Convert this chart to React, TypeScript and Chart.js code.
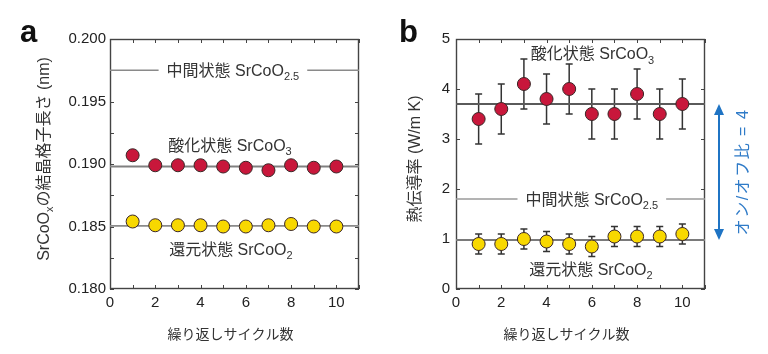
import React, { useEffect, useRef } from "react";
import { Chart, registerables } from "chart.js";

Chart.register(...registerables);

const FONT = "'Liberation Sans', 'Noto Sans CJK JP', Arial, sans-serif";

// ---------------- data ----------------
const cycles = [1, 2, 3, 4, 5, 6, 7, 8, 9, 10];

// panel a: lattice length (nm)
const latticeOxidized = [0.1907, 0.1899, 0.1899, 0.1899, 0.1898, 0.1897, 0.1895, 0.1899, 0.1897, 0.1898];
const latticeReduced = [0.1854, 0.1851, 0.1851, 0.1851, 0.185, 0.185, 0.1851, 0.1852, 0.185, 0.185];
const latticeOxidizedLevel = 0.1898;
const latticeIntermediateLevel = 0.1975;
const latticeReducedLevel = 0.18505;

// panel b: thermal conductivity (W/m K)
const conductOxidized = [3.4, 3.6, 4.1, 3.8, 4.0, 3.5, 3.5, 3.9, 3.5, 3.7];
const conductOxidizedErr = [0.5, 0.5, 0.5, 0.5, 0.5, 0.5, 0.5, 0.5, 0.5, 0.5];
const conductReduced = [0.9, 0.9, 1.0, 0.95, 0.9, 0.85, 1.05, 1.05, 1.05, 1.1];
const conductReducedErr = [0.2, 0.2, 0.2, 0.2, 0.2, 0.2, 0.2, 0.2, 0.2, 0.2];
const conductOxidizedLevel = 3.7;
const conductIntermediateLevel = 1.8;
const conductReducedLevel = 0.98;
const onOffRatio = 4;

// text
type Seg = { t: string; sub?: boolean };
const txtOxidized: Seg[] = [{ t: "酸化状態 SrCoO" }, { t: "3", sub: true }];
const txtIntermediate: Seg[] = [{ t: "中間状態 SrCoO" }, { t: "2.5", sub: true }];
const txtReduced: Seg[] = [{ t: "還元状態 SrCoO" }, { t: "2", sub: true }];
const txtXTitle: Seg[] = [{ t: "繰り返しサイクル数" }];
const txtYTitleA: Seg[] = [{ t: "SrCoO" }, { t: "x", sub: true }, { t: "の結晶格子長さ (nm)" }];
const txtYTitleB: Seg[] = [{ t: "熱伝導率 (W/m K)" }];
const txtRatio = `オン/オフ比 = ${onOffRatio}`;

const RED = "#c8173b";
const YELLOW = "#f8d800";

// ---------------- helpers ----------------
function drawRich(
  ctx: CanvasRenderingContext2D,
  segs: Seg[],
  cx: number,
  cy: number,
  size: number,
  color: string,
  rotation = 0,
  knockPad = -1
) {
  const subSize = Math.round(size * 0.7);
  ctx.save();
  ctx.translate(cx, cy);
  if (rotation) ctx.rotate(rotation);
  const widths = segs.map((s) => {
    ctx.font = `${s.sub ? subSize : size}px ${FONT}`;
    return ctx.measureText(s.t).width;
  });
  const total = widths.reduce((a, b) => a + b, 0);
  if (knockPad >= 0) {
    ctx.fillStyle = "#fff";
    ctx.fillRect(-total / 2 - knockPad, -4, total + 2 * knockPad, 8);
  }
  ctx.fillStyle = color;
  ctx.textBaseline = "alphabetic";
  ctx.textAlign = "left";
  let x = -total / 2;
  const base = size * 0.36;
  segs.forEach((s, i) => {
    ctx.font = `${s.sub ? subSize : size}px ${FONT}`;
    ctx.fillText(s.t, x, base + (s.sub ? size * 0.28 : 0));
    x += widths[i];
  });
  ctx.restore();
}

interface Series { values: number[]; err?: number[]; color: string }
interface Level { value: number; color: string; width: number }
interface Note { x: number; y: number; segs: Seg[]; knock?: boolean }
interface PanelSpec {
  letter: string;
  yMin: number;
  yMax: number;
  yStep: number;
  yLabel: (v: number) => string;
  yAxisWidth: number;
  yLabelPad: number;
  rightPad: number;
  series: Series[];
  levels: Level[];
  notes: Note[];
  yTitle: Seg[];
  yTitleDx: number;
  xTitleDx: number;
  letterX: number;
  arrow?: { from: number; to: number; label: string };
}

const TL = 4;

function makeChart(canvas: HTMLCanvasElement, spec: PanelSpec) {
  const extras = {
    id: "extras",
    beforeDatasetsDraw(chart: any) {
      const { ctx, chartArea: a, scales } = chart;
      const xs = scales.x;
      const ys = scales.y;
      ctx.save();
      ctx.strokeStyle = "#444";
      ctx.lineWidth = 1;
      ctx.beginPath();
      xs.ticks.forEach((t: any) => {
        const px = Math.round(xs.getPixelForValue(t.value)) + 0.5;
        ctx.moveTo(px, a.bottom);
        ctx.lineTo(px, a.bottom - TL);
        ctx.moveTo(px, a.top);
        ctx.lineTo(px, a.top + TL);
      });
      ys.ticks.forEach((t: any) => {
        const py = Math.round(ys.getPixelForValue(t.value)) + 0.5;
        ctx.moveTo(a.left, py);
        ctx.lineTo(a.left + TL, py);
        ctx.moveTo(a.right, py);
        ctx.lineTo(a.right - TL, py);
      });
      ctx.stroke();
      ctx.lineWidth = 1.4;
      ctx.strokeStyle = "#444";
      ctx.strokeRect(a.left + 0.5, a.top + 0.5, a.right - a.left - 1, a.bottom - a.top - 1);
      // error bars
      ctx.strokeStyle = "#333";
      ctx.lineWidth = 1.5;
      spec.series.forEach((s) => {
        if (!s.err) return;
        cycles.forEach((c, i) => {
          const px = xs.getPixelForValue(c);
          const top = ys.getPixelForValue(s.values[i] + s.err![i]);
          const bot = ys.getPixelForValue(s.values[i] - s.err![i]);
          ctx.beginPath();
          ctx.moveTo(px, top);
          ctx.lineTo(px, bot);
          ctx.moveTo(px - 3.5, top);
          ctx.lineTo(px + 3.5, top);
          ctx.moveTo(px - 3.5, bot);
          ctx.lineTo(px + 3.5, bot);
          ctx.stroke();
        });
      });
      ctx.restore();
    },
    afterDatasetsDraw(chart: any) {
      const { ctx, scales } = chart;
      spec.notes.forEach((n) => {
        drawRich(ctx, n.segs, scales.x.getPixelForValue(n.x), scales.y.getPixelForValue(n.y), 16, "#333", 0, n.knock ? 8 : -1);
      });
    },
    afterDraw(chart: any) {
      const { ctx, chartArea: a, scales } = chart;
      // axis titles
      drawRich(ctx, txtXTitle, (a.left + a.right) / 2 + spec.xTitleDx, 334, 14, "#333");
      drawRich(ctx, spec.yTitle, a.left - spec.yTitleDx, (a.top + a.bottom) / 2 - 5, 16, "#333", -Math.PI / 2);
      // panel letter
      ctx.save();
      ctx.font = `bold 31px ${FONT}`;
      ctx.fillStyle = "#111";
      ctx.textBaseline = "alphabetic";
      ctx.fillText(spec.letter, spec.letterX, 42);
      ctx.restore();
      // on/off arrow
      if (spec.arrow) {
        const ys = scales.y;
        const x = a.right + 14;
        const y1 = ys.getPixelForValue(spec.arrow.from);
        const y2 = ys.getPixelForValue(spec.arrow.to);
        ctx.save();
        ctx.strokeStyle = "#1f74c4";
        ctx.fillStyle = "#1f74c4";
        ctx.lineWidth = 2;
        ctx.beginPath();
        ctx.moveTo(x, y1 + 8);
        ctx.lineTo(x, y2 - 8);
        ctx.stroke();
        ctx.beginPath();
        ctx.moveTo(x, y1);
        ctx.lineTo(x - 5, y1 + 11);
        ctx.lineTo(x + 5, y1 + 11);
        ctx.closePath();
        ctx.fill();
        ctx.beginPath();
        ctx.moveTo(x, y2);
        ctx.lineTo(x - 5, y2 - 11);
        ctx.lineTo(x + 5, y2 - 11);
        ctx.closePath();
        ctx.fill();
        ctx.translate(a.right + 38, (y1 + y2) / 2);
        ctx.rotate(-Math.PI / 2);
        ctx.font = `16px ${FONT}`;
        (ctx as any).letterSpacing = "1.5px";
        ctx.textAlign = "center";
        ctx.textBaseline = "middle";
        ctx.fillStyle = "#2f7bc8";
        ctx.fillText(spec.arrow.label, 0, 1);
        ctx.restore();
      }
    },
  };

  const datasets: any[] = [
    ...spec.series.map((s) => ({
      data: cycles.map((c, i) => ({ x: c, y: s.values[i] })),
      backgroundColor: s.color,
      borderColor: "#3a2626",
      borderWidth: 1,
      pointRadius: 6.5,
      pointHoverRadius: 6.5,
      order: 0,
    })),
    ...spec.levels.map((l) => ({
      data: [
        { x: 0, y: l.value },
        { x: 11, y: l.value },
      ],
      showLine: true,
      borderColor: l.color,
      borderWidth: l.width,
      pointRadius: 0,
      fill: false,
      order: 1,
    })),
  ];

  return new Chart(canvas, {
    type: "scatter",
    data: { datasets },
    options: {
      responsive: false,
      animation: false,
      events: [],
      devicePixelRatio: 1,
      layout: { padding: { top: 39, right: spec.rightPad, left: 0, bottom: 0 } },
      plugins: { legend: { display: false }, tooltip: { enabled: false } },
      scales: {
        x: {
          type: "linear",
          min: 0,
          max: 11,
          afterFit: (s: any) => {
            s.height = 65;
          },
          grid: { display: false, drawTicks: false },
          border: { display: false },
          ticks: {
            stepSize: 1,
            autoSkip: false,
            maxRotation: 0,
            padding: 5,
            color: "#222",
            font: { family: FONT, size: 15 },
            callback: (v: any) => (Math.round(v) % 2 === 0 ? String(Math.round(v)) : ""),
          },
        },
        y: {
          type: "linear",
          min: spec.yMin,
          max: spec.yMax,
          afterFit: (s: any) => {
            s.width = spec.yAxisWidth;
          },
          grid: { display: false, drawTicks: false },
          border: { display: false },
          ticks: {
            stepSize: spec.yStep,
            autoSkip: false,
            padding: spec.yLabelPad,
            color: "#222",
            font: { family: FONT, size: 15 },
            callback: (v: any) => spec.yLabel(Number(v)),
          },
        },
      },
    } as any,
    plugins: [extras as any],
  });
}

const specA: PanelSpec = {
  letter: "a",
  yMin: 0.18,
  yMax: 0.2,
  yStep: 0.0025,
  yLabel: (v) => (Math.round(v * 400) % 2 === 0 ? v.toFixed(3) : ""),
  yAxisWidth: 110,
  yLabelPad: 4,
  rightPad: 25,
  series: [
    { values: latticeOxidized, color: RED },
    { values: latticeReduced, color: YELLOW },
  ],
  levels: [
    { value: latticeOxidizedLevel, color: "#808080", width: 1.8 },
    { value: latticeIntermediateLevel, color: "#8a8a8a", width: 1.5 },
    { value: latticeReducedLevel, color: "#8a8a8a", width: 1.8 },
  ],
  notes: [
    { x: 5.43, y: latticeIntermediateLevel, segs: txtIntermediate, knock: true },
    { x: 5.3, y: 0.19152, segs: txtOxidized },
    { x: 5.34, y: 0.18322, segs: txtReduced },
  ],
  yTitle: txtYTitleA,
  yTitleDx: 67,
  xTitleDx: -4,
  letterX: 20,
};

const specB: PanelSpec = {
  letter: "b",
  yMin: 0,
  yMax: 5,
  yStep: 1,
  yLabel: (v) => String(Math.round(v)),
  yAxisWidth: 72,
  yLabelPad: 6,
  rightPad: 63,
  series: [
    { values: conductOxidized, err: conductOxidizedErr, color: RED },
    { values: conductReduced, err: conductReducedErr, color: YELLOW },
  ],
  levels: [
    { value: conductOxidizedLevel, color: "#5a5a5a", width: 2 },
    { value: conductIntermediateLevel, color: "#9a9a9a", width: 1.6 },
    { value: conductReducedLevel, color: "#7a7a7a", width: 2 },
  ],
  notes: [
    { x: 6.0, y: conductIntermediateLevel, segs: txtIntermediate, knock: true },
    { x: 6.03, y: 4.71, segs: txtOxidized },
    { x: 5.96, y: 0.4, segs: txtReduced },
  ],
  yTitle: txtYTitleB,
  yTitleDx: 42,
  xTitleDx: -14,
  letterX: 15,
  arrow: { from: conductOxidizedLevel, to: conductReducedLevel, label: txtRatio },
};

function Panel({ spec, left }: { spec: PanelSpec; left: number }) {
  const ref = useRef<HTMLCanvasElement>(null);
  useEffect(() => {
    if (!ref.current) return;
    const chart = makeChart(ref.current, spec);
    return () => chart.destroy();
  }, [spec]);
  return (
    <div style={{ position: "absolute", left, top: 0, width: 384, height: 354 }}>
      <canvas ref={ref} width={384} height={354} style={{ width: 384, height: 354, display: "block" }} />
    </div>
  );
}

export default function App() {
  return (
    <div style={{ position: "fixed", left: 0, top: 0, width: 768, height: 354, background: "#fff", overflow: "hidden" }}>
      <Panel spec={specA} left={0} />
      <Panel spec={specB} left={384} />
    </div>
  );
}
